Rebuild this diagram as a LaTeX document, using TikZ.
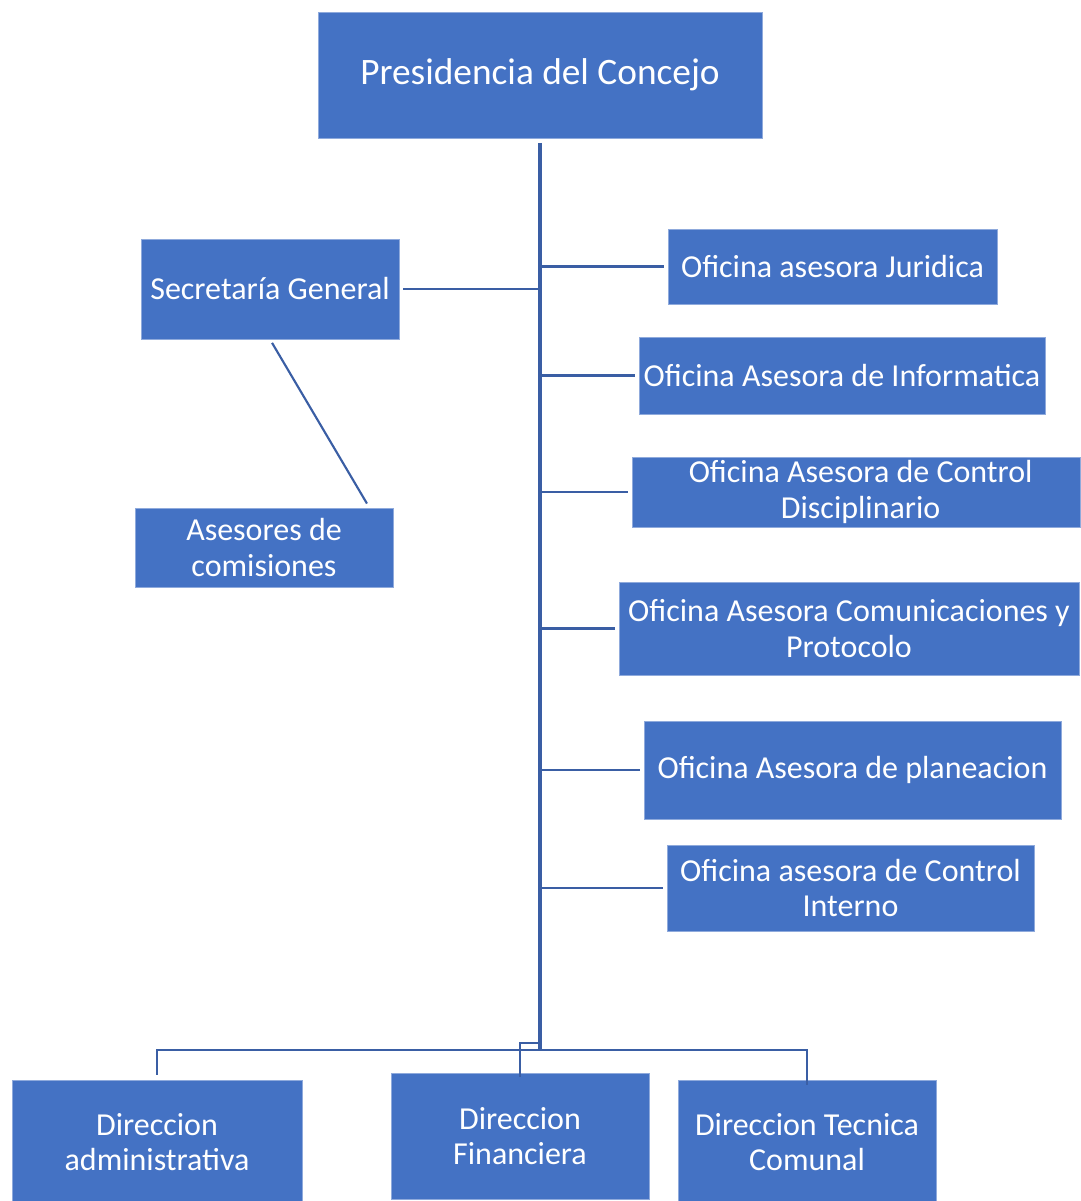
\documentclass[tikz,border=0pt]{standalone}
\usepackage{fontspec}
\setmainfont{Carlito}
\definecolor{boxblue}{RGB}{68,114,196}
\definecolor{boxedge}{RGB}{143,170,220}
\definecolor{linkblue}{RGB}{58,94,164}
\begin{document}
\begin{tikzpicture}[x=0.75pt,y=-0.75pt,
  orgbox/.style={draw=boxedge,line width=0.6pt,fill=boxblue,text=white,align=center,
    inner sep=0pt,font=\fontsize{24}{26.5}\selectfont},
  link/.style={draw=linkblue,line width=1.6pt},
  trunk/.style={draw=linkblue,line width=2.4pt}]
\useasboundingbox (0,0) rectangle (1080,1201);
% boxes
\node[orgbox,minimum width={444*0.75pt},minimum height={126*0.75pt},font=\fontsize{28}{32}\selectfont] (pres) at (540,75) {Presidencia del Concejo};
\node[orgbox,minimum width={258*0.75pt},minimum height={100*0.75pt}] (sec) at (270,289) {Secretaría General};
\node[orgbox,minimum width={258*0.75pt},minimum height={79*0.75pt}] (ases) at (264,547.5) {Asesores de\\comisiones};
\node[orgbox,minimum width={329*0.75pt},minimum height={75*0.75pt}] (jur) at (832.5,266.5) {Oficina asesora Juridica};
\node[orgbox,minimum width={406*0.75pt},minimum height={77*0.75pt}] (inf) at (842,375.5) {Oficina Asesora de Informatica};
\node[orgbox,minimum width={448*0.75pt},minimum height={70*0.75pt}] (disc) at (856,492) {\hspace*{7pt}Oficina Asesora de Control\\\hspace*{7pt}Disciplinario};
\node[orgbox,minimum width={460*0.75pt},minimum height={93*0.75pt}] (comu) at (849,628.5) {Oficina Asesora Comunicaciones y\\Protocolo};
\node[orgbox,minimum width={417*0.75pt},minimum height={98*0.75pt}] (plan) at (852.5,770) {Oficina Asesora de planeacion};
\node[orgbox,minimum width={367*0.75pt},minimum height={86*0.75pt}] (cint) at (850.5,888) {Oficina asesora de Control\\Interno};
\node[orgbox,minimum width={290*0.75pt},minimum height={124*0.75pt}] (dadm) at (157,1142) {Direccion\\administrativa};
\node[orgbox,minimum width={258*0.75pt},minimum height={126*0.75pt}] (dfin) at (520,1136) {Direccion\\Financiera};
\node[orgbox,minimum width={258*0.75pt},minimum height={124*0.75pt}] (dtec) at (807,1142) {Direccion Tecnica\\Comunal};
% connectors
\coordinate (ttop) at (540,143);
\coordinate (tbot) at (540,1050);
\draw[trunk] (ttop) -- (tbot);
\foreach \n in {jur,inf,disc,comu,plan,cint}
  \draw[link,shorten >=3pt] (ttop |- \n.west) -- (\n.west);
\draw[link,shorten >=3pt] (ttop |- sec.east) -- (sec.east);
\draw[link,shorten <=3pt,shorten >=3pt] (sec.south) -- (369,507) coordinate (asestop);
\draw[link] (dadm.north) ++(0,-5) coordinate (la) |- (tbot) -| ([yshift=-4pt]dtec.north);
\draw[link] (tbot) -- ++(0,-7) -| ([yshift=-3pt]dfin.north);
\end{tikzpicture}
\end{document}
